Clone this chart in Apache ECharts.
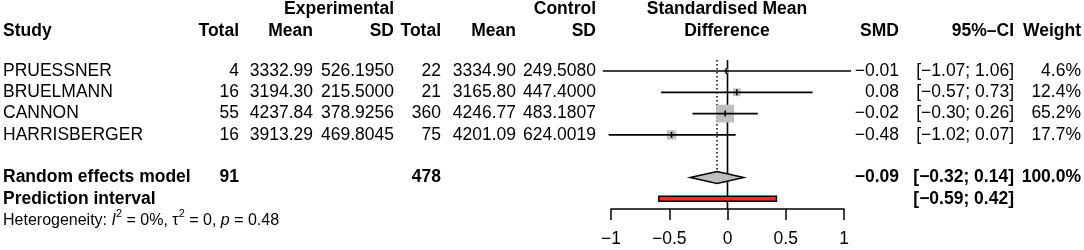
<!DOCTYPE html>
<html>
<head>
<meta charset="utf-8">
<script src="https://cdn.jsdelivr.net/npm/echarts@6/dist/echarts.min.js"></script>
<style>
html,body{margin:0;padding:0;background:#fff;}
#c{width:1084px;height:250px;}
</style>
</head>
<body>
<div id="c"></div>
<script>
// ---------- data ----------
const studies   = ['PRUESSNER', 'BRUELMANN', 'CANNON', 'HARRISBERGER'];
const expTotal  = [4, 16, 55, 16];
const expMean   = [3332.99, 3194.30, 4237.84, 3913.29];
const expSD     = [526.1950, 215.5000, 378.9256, 469.8045];
const ctlTotal  = [22, 21, 360, 75];
const ctlMean   = [3334.90, 3165.80, 4246.77, 4201.09];
const ctlSD     = [249.5080, 447.4000, 483.1807, 624.0019];
const smd       = [-0.01, 0.08, -0.02, -0.48];
const ciLow     = [-1.07, -0.57, -0.30, -1.02];
const ciHigh    = [1.06, 0.73, 0.26, 0.07];
const weights   = [4.6, 12.4, 65.2, 17.7];
const pooledSMD = -0.09;
const pooledLow = -0.32;
const pooledHigh = 0.14;
const pooledWeight = 100.0;
const predLow   = -0.59;
const predHigh  = 0.42;
const hetI2 = '0%', hetTau2 = '0', hetP = '0.48';

// ---------- layout / style ----------
const FONT = '"Liberation Sans", Arial, Helvetica, sans-serif';
const FS = 17.5;
const colX = {study: 3, eTotal: 239, eMean: 313, eSD: 394, cTotal: 441, cMean: 516, cSD: 596,
              mid: 727, smd: 899, ci: 1014, w: 1081};
const rowStudy0 = 0, rowPooled = 5, rowPred = 6, rowHet = 7.02, rowHead2 = -1.88, rowHead1 = -2.9;

const m = v => String(v).replace('-', '\u2212');
const f = (v, d) => m(v.toFixed(d));
const ciTxt = (a, b) => '[' + f(a, 2) + '; ' + f(b, 2) + ']';

// table rows built from the arrays
const tableRows = [];
tableRows.push({y: rowHead1, cells: [
  {c: 'eSD', t: 'Experimental', b: true},
  {c: 'cSD', t: 'Control', b: true},
  {c: 'mid', t: 'Standardised Mean', b: true, a: 'center'}
]});
tableRows.push({y: rowHead2, cells: [
  {c: 'study', t: 'Study', b: true, a: 'left'},
  {c: 'eTotal', t: 'Total', b: true}, {c: 'eMean', t: 'Mean', b: true}, {c: 'eSD', t: 'SD', b: true},
  {c: 'cTotal', t: 'Total', b: true}, {c: 'cMean', t: 'Mean', b: true}, {c: 'cSD', t: 'SD', b: true},
  {c: 'mid', t: 'Difference', b: true, a: 'center'},
  {c: 'smd', t: 'SMD', b: true}, {c: 'ci', t: '95%\u2013CI', b: true}, {c: 'w', t: 'Weight', b: true}
]});
studies.forEach((s, i) => {
  tableRows.push({y: rowStudy0 + i, cells: [
    {c: 'study', t: s, a: 'left'},
    {c: 'eTotal', t: String(expTotal[i])}, {c: 'eMean', t: f(expMean[i], 2)}, {c: 'eSD', t: f(expSD[i], 4)},
    {c: 'cTotal', t: String(ctlTotal[i])}, {c: 'cMean', t: f(ctlMean[i], 2)}, {c: 'cSD', t: f(ctlSD[i], 4)},
    {c: 'smd', t: f(smd[i], 2)}, {c: 'ci', t: ciTxt(ciLow[i], ciHigh[i])}, {c: 'w', t: weights[i].toFixed(1) + '%'}
  ]});
});
tableRows.push({y: rowPooled, cells: [
  {c: 'study', t: 'Random effects model', b: true, a: 'left'},
  {c: 'eTotal', t: String(expTotal.reduce((a, b) => a + b, 0)), b: true},
  {c: 'cTotal', t: String(ctlTotal.reduce((a, b) => a + b, 0)), b: true},
  {c: 'smd', t: f(pooledSMD, 2), b: true}, {c: 'ci', t: ciTxt(pooledLow, pooledHigh), b: true},
  {c: 'w', t: pooledWeight.toFixed(1) + '%', b: true}
]});
tableRows.push({y: rowPred, cells: [
  {c: 'study', t: 'Prediction interval', b: true, a: 'left'},
  {c: 'ci', t: ciTxt(predLow, predHigh), b: true}
]});

const chart = echarts.init(document.getElementById('c'), null, {renderer: 'canvas'});

const GRID_TOP = 60, GRID_BOTTOM_PX = 209, ROW_Y0 = 71, ROW_H = 21.3;
const yMin = (GRID_TOP - ROW_Y0) / ROW_H;
const yMax = (GRID_BOTTOM_PX - ROW_Y0) / ROW_H;

const option = {
  backgroundColor: '#ffffff',
  animation: false,
  grid: {left: 611, right: 1084 - 844, top: GRID_TOP, bottom: 250 - GRID_BOTTOM_PX},
  xAxis: {
    type: 'value', min: -1, max: 1, interval: 0.5,
    splitLine: {show: false},
    axisLine: {show: true, onZero: false, lineStyle: {color: '#000', width: 1.5}},
    axisTick: {show: true, length: 11, lineStyle: {color: '#000', width: 1.5}},
    axisLabel: {color: '#000', fontFamily: FONT, fontSize: FS, margin: 21, formatter: v => m(v)}
  },
  yAxis: {type: 'value', inverse: true, min: yMin, max: yMax, show: false},
  series: [
    // reference lines
    {
      type: 'custom', coordinateSystem: 'cartesian2d', clip: false, silent: true,
      data: [[0, pooledSMD]],
      renderItem: (params, api) => {
        const zeroTop = api.coord([0, yMin]);
        const zeroBot = api.coord([0, yMax]);
        const pTop = api.coord([pooledSMD, yMin]);
        const pBot = api.coord([pooledSMD, rowPooled]);
        return {type: 'group', children: [
          {type: 'line', shape: {x1: pTop[0], y1: pTop[1], x2: pBot[0], y2: pBot[1] - 6},
           style: {stroke: '#000', lineWidth: 1.5, lineDash: [1.5, 2.5]}},
          {type: 'line', shape: {x1: zeroTop[0], y1: zeroTop[1], x2: zeroBot[0], y2: zeroBot[1]},
           style: {stroke: '#000', lineWidth: 1.6}}
        ]};
      }
    },
    // studies
    {
      type: 'custom', coordinateSystem: 'cartesian2d', clip: false, silent: true,
      data: smd.map((v, i) => [v, rowStudy0 + i]),
      renderItem: (params, api) => {
        const i = params.dataIndex;
        const row = rowStudy0 + i;
        const c = api.coord([smd[i], row]);
        const lo = api.coord([ciLow[i], row]);
        const hi = api.coord([ciHigh[i], row]);
        const s = 2.2 * Math.sqrt(weights[i]);
        return {type: 'group', children: [
          {type: 'rect', shape: {x: c[0] - s / 2, y: c[1] - s / 2, width: s, height: s},
           style: {fill: '#bfbfbf', stroke: null}},
          {type: 'line', shape: {x1: lo[0], y1: lo[1], x2: hi[0], y2: hi[1]},
           style: {stroke: '#000', lineWidth: 1.7}},
          {type: 'line', shape: {x1: c[0], y1: c[1] - 3, x2: c[0], y2: c[1] + 3},
           style: {stroke: '#000', lineWidth: 1.5}}
        ]};
      }
    },
    // pooled diamond + prediction interval
    {
      type: 'custom', coordinateSystem: 'cartesian2d', clip: false, silent: true,
      data: [[pooledSMD, rowPooled]],
      renderItem: (params, api) => {
        const c = api.coord([pooledSMD, rowPooled]);
        const lo = api.coord([pooledLow, rowPooled]);
        const hi = api.coord([pooledHigh, rowPooled]);
        const pl = api.coord([predLow, rowPred]);
        const ph = api.coord([predHigh, rowPred]);
        const h = 6;
        return {type: 'group', children: [
          {type: 'polygon', shape: {points: [[lo[0], lo[1]], [c[0], c[1] - h], [hi[0], hi[1]], [c[0], c[1] + h]]},
           style: {fill: '#bfbfbf', stroke: '#000', lineWidth: 1.5}},
          {type: 'rect', shape: {x: pl[0], y: pl[1] - 2.5, width: ph[0] - pl[0], height: 5},
           style: {fill: '#ff2a1a', stroke: '#000', lineWidth: 1.5}}
        ]};
      }
    },
    // table text
    {
      type: 'custom', coordinateSystem: 'cartesian2d', clip: false, silent: true,
      data: tableRows.map(r => [0, r.y]),
      renderItem: (params, api) => {
        const r = tableRows[params.dataIndex];
        const y = api.coord([0, r.y])[1];
        return {type: 'group', children: r.cells.map(cell => ({
          type: 'text',
          style: {
            x: colX[cell.c], y: y, text: cell.t,
            align: cell.a || 'right', verticalAlign: 'middle',
            fontFamily: FONT, fontSize: FS, fontWeight: cell.b ? 'bold' : 'normal', fill: '#000'
          }
        }))};
      }
    },
    // heterogeneity
    {
      type: 'custom', coordinateSystem: 'cartesian2d', clip: false, silent: true,
      data: [[0, rowHet]],
      renderItem: (params, api) => {
        const y = api.coord([0, rowHet])[1];
        return {type: 'text', style: {
          x: 3, y: y, align: 'left', verticalAlign: 'middle',
          text: '{a|Heterogeneity: }{i|I}{s|2}{a| = ' + hetI2 + ', }{a|\u03c4}{s|2}{a| = ' + hetTau2 +
                ', }{i|p}{a| = ' + hetP + '}',
          rich: {
            a: {fontFamily: FONT, fontSize: 16, fill: '#000', lineHeight: 24},
            i: {fontFamily: FONT, fontSize: 16, fontStyle: 'italic', fill: '#000', lineHeight: 24},
            s: {fontFamily: FONT, fontSize: 11, fill: '#000', lineHeight: 14, verticalAlign: 'top'}
          }
        }};
      }
    }
  ]
};
chart.setOption(option);
</script>
</body>
</html>
